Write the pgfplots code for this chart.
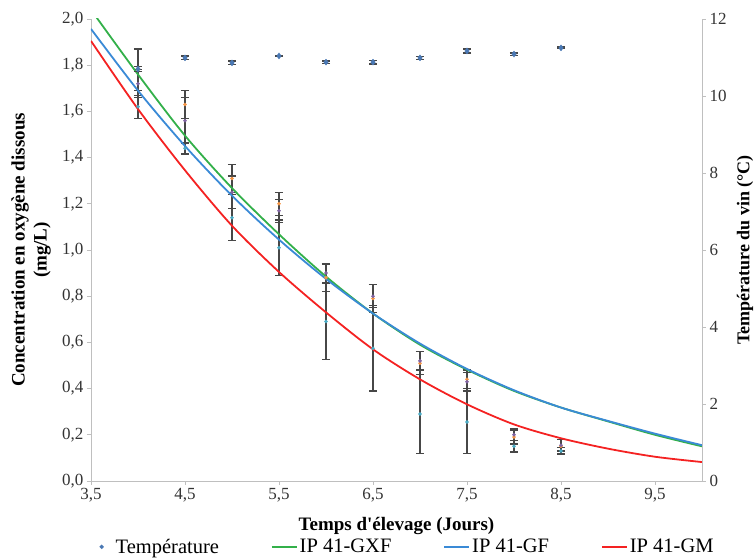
\documentclass[border=0pt]{standalone}
\usepackage{pgfplots}
\pgfplotsset{compat=1.18}
\usepackage{fontspec}
\setmainfont{Liberation Serif}
\definecolor{cOr}{HTML}{F79646}
\definecolor{cPu}{HTML}{8064A2}
\definecolor{cCy}{HTML}{4BACC6}
\definecolor{cTe}{HTML}{4A78B4}
\definecolor{cGr}{HTML}{33B04A}
\definecolor{cBl}{HTML}{3A8AD6}
\definecolor{cRe}{HTML}{F42222}
\pgfplotsset{
  mylinelegend/.style={legend image code/.code={\draw[##1] (0pt,0pt) -- (25pt,0pt);}},
  mymarklegend/.style={legend image code/.code={\fill[cTe, draw=none] (2pt,2.3pt) -- (4.3pt,0pt) -- (2pt,-2.3pt) -- (-0.3pt,0pt) -- cycle; \path[draw=none, fill=none] (0pt,0pt) -- (14pt,0pt);}},
  myerr/.style={error bars/y dir=both, error bars/y explicit,
     error bars/error bar style={line width=1.3pt, color=black!72},
     error bars/error mark options={rotate=90, line width=1.3pt, mark size=4pt, color=black!72}},
}
\pgfplotstableread{
x y e
4.0 1.78 0.09
4.5 1.63 0.06
5.0 1.31 0.06
5.5 1.20 0.05
6.0 0.88 0.06
6.5 0.79 0.06
7.0 0.51 0.05
7.5 0.44 0.04
8.0 0.19 0.03
8.5 0.15 0.03
}\orange
\pgfplotstableread{
x y e
4.0 1.72 0.06
4.5 1.56 0.10
5.0 1.25 0.07
5.5 1.17 0.05
6.0 0.90 0.04
6.5 0.80 0.05
7.0 0.52 0.04
7.5 0.43 0.04
8.0 0.20 0.025
8.5 0.155 0.025
}\purple
\pgfplotstableread{
x y e
4.0 1.62 0.05
4.5 1.44 0.025
5.0 1.14 0.10
5.5 1.01 0.12
6.0 0.69 0.165
6.5 0.575 0.185
7.0 0.29 0.17
7.5 0.255 0.135
8.0 0.15 0.025
8.5 0.13 0.015
}\cyan
\pgfplotstableread{
x y e
4.0 10.70 0.06
4.5 10.99 0.05
5.0 10.86 0.05
5.5 11.04 0.02
6.0 10.88 0.03
6.5 10.88 0.05
7.0 10.99 0.04
7.5 11.17 0.05
8.0 11.09 0.03
8.5 11.25 0.02
}\temp
\begin{document}
\begin{tikzpicture}
\path[use as bounding box] (-91pt,-78pt) rectangle (664pt,481pt);
\begin{axis}[
  scale only axis, width=611pt, height=462pt,
  xmin=3.5, xmax=10, ymin=0, ymax=2,
  axis x line*=bottom, axis y line*=left,
  axis line style={black!25, line width=0.8pt},
  xtick={3.5,4.5,5.5,6.5,7.5,8.5,9.5},
  ytick={0,0.2,0.4,0.6,0.8,1.0,1.2,1.4,1.6,1.8,2.0},
  tick style={black!25, line width=0.8pt},
  tick align=outside, major tick length=4pt,
  xticklabel style={/pgf/number format/.cd, fixed, fixed zerofill, precision=1, use comma, assume math mode=true},
  yticklabel style={/pgf/number format/.cd, fixed, fixed zerofill, precision=1, use comma, assume math mode=true},
  tick label style={font=\fontsize{17}{17}\selectfont, text=black!80},
  xlabel={Temps d\textquotesingle élevage (Jours)},
  xlabel style={font=\bfseries\fontsize{19}{19}\selectfont, at={(axis description cs:0.5,-0.097)}, anchor=center},
  ylabel={Concentration en oxygène dissous\\(mg/L)},
  ylabel style={font=\bfseries\fontsize{19}{22}\selectfont, align=center, at={(axis description cs:-0.098,0.5)}, anchor=center},
  legend style={at={(0.518,-0.1425)}, anchor=center, draw=none, legend columns=4,
     font=\fontsize{20.5}{20.5}\selectfont,
     /tikz/every even column/.append style={column sep=50pt}},
  legend cell align=left,
  clip=true,
]
\addlegendimage{only marks, mark=diamond*, mark size=2.2pt, color=cTe, mymarklegend}
\addlegendentry{Température}
\addplot[only marks, mark=*, mark size=1.6pt, color=cOr, myerr, forget plot] table[x=x,y=y,y error=e]{\orange};
\addplot[only marks, mark=*, mark size=1.6pt, color=cPu, myerr, forget plot] table[x=x,y=y,y error=e]{\purple};
\addplot[only marks, mark=*, mark size=1.6pt, color=cCy, myerr, forget plot] table[x=x,y=y,y error=e]{\cyan};
\addplot[color=cGr, line width=1.8pt, smooth, mylinelegend] coordinates {
(3.5,2.04) (4,1.76) (4.5,1.495) (5,1.268) (5.5,1.068) (6,0.885) (6.5,0.725) (7,0.59) (7.5,0.482) (8,0.39) (8.5,0.318) (9,0.258) (9.5,0.2) (10,0.15)};
\addlegendentry{IP 41-GXF}
\addplot[color=cBl, line width=1.8pt, smooth, mylinelegend] coordinates {
(3.5,1.957) (4,1.69) (4.5,1.45) (5,1.235) (5.5,1.045) (6,0.875) (6.5,0.725) (7,0.595) (7.5,0.485) (8,0.393) (8.5,0.318) (9,0.26) (9.5,0.205) (10,0.155)};
\addlegendentry{IP 41-GF}
\addplot[color=cRe, line width=1.8pt, smooth, mylinelegend] coordinates {
(3.5,1.905) (4,1.61) (4.5,1.345) (5,1.105) (5.5,0.905) (6,0.73) (6.5,0.57) (7,0.44) (7.5,0.332) (8,0.245) (8.5,0.185) (9,0.14) (9.5,0.105) (10,0.082)};
\addlegendentry{IP 41-GM}
\end{axis}
\begin{axis}[
  scale only axis, width=611pt, height=462pt,
  xmin=3.5, xmax=10, ymin=0, ymax=12,
  axis x line=none, axis y line*=right,
  axis line style={black!25, line width=0.8pt},
  ytick={0,2,4,6,8,10,12},
  tick style={black!25, line width=0.8pt},
  tick align=outside, major tick length=4pt,
  yticklabel style={/pgf/number format/assume math mode=true},
  tick label style={font=\fontsize{17}{17}\selectfont, text=black!80},
  ylabel={Température du vin (°C)},
  ylabel style={font=\bfseries\fontsize{18}{18}\selectfont, at={(axis description cs:1.0704,0.5)}, anchor=center},
]
\addplot[only marks, mark=diamond*, mark size=3pt, color=cTe, myerr] table[x=x,y=y,y error=e]{\temp};
\end{axis}
\end{tikzpicture}
\end{document}
